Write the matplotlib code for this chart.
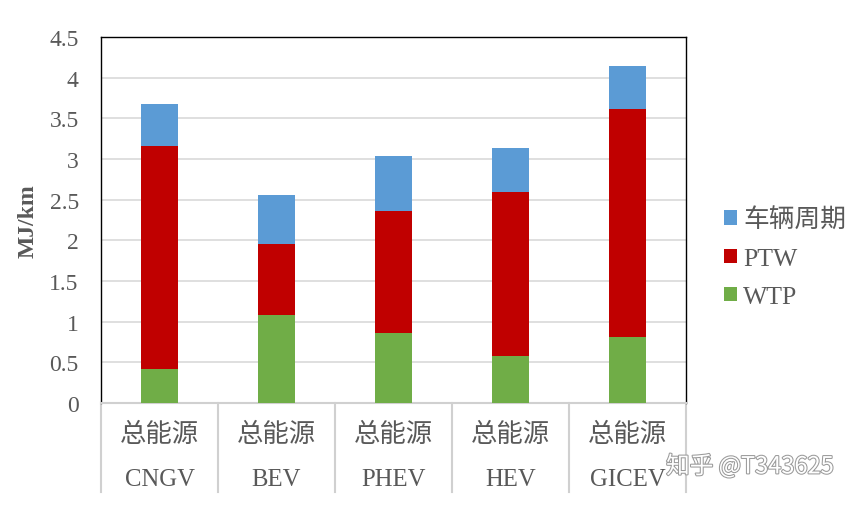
import numpy as np
import matplotlib.pyplot as plt
import matplotlib.patheffects as pe

plt.rcParams['font.family'] = ['Liberation Serif', 'Noto Sans CJK SC', 'DejaVu Sans']

cars = ["CNGV", "BEV", "PHEV", "HEV", "GICEV"]
group = "总能源"
wtp = [0.42, 1.08, 0.86, 0.58, 0.81]
ptw = [2.74, 0.88, 1.50, 2.01, 2.81]
vehicle = [0.52, 0.60, 0.68, 0.55, 0.52]
yticks = [0, 0.5, 1, 1.5, 2, 2.5, 3, 3.5, 4, 4.5]

grey = '#595959'
line_grey = '#D0D0D0'

fig = plt.figure(figsize=(8.57, 5.06), dpi=100)
ax = fig.add_axes([101/857, 1 - 404/506, 585/857, 366/506])

x = np.arange(len(cars))
w = 0.315
b1 = ax.bar(x, wtp, w, color='#70AD47', label='WTP', zorder=3)
b2 = ax.bar(x, ptw, w, bottom=wtp, color='#C00000', label='PTW', zorder=3)
bottom2 = np.array(wtp) + np.array(ptw)
b3 = ax.bar(x, vehicle, w, bottom=bottom2, color='#5B9BD5', label='车辆周期', zorder=3)

ax.set_xlim(-0.5, len(cars) - 0.5)
ax.set_ylim(0, 4.5)
ax.set_yticks(yticks)
ax.set_yticklabels([f"{v:g}" for v in yticks], fontsize=17, color=grey)
ax.tick_params(axis='y', length=0, pad=16)
ax.set_xticks([])
ax.yaxis.grid(True, color='#D9D9D9', linewidth=1.2, zorder=0)

for s in ['top', 'left', 'right']:
    ax.spines[s].set_color('black')
    ax.spines[s].set_linewidth(1.0)
ax.spines['bottom'].set_color(line_grey)
ax.spines['bottom'].set_linewidth(1.5)

ax.set_ylabel("MJ/km", fontsize=17, fontweight='bold', color=grey, labelpad=8)

# category table below the plot
trans = ax.get_xaxis_transform()
for b in np.arange(len(cars) + 1) - 0.5:
    ax.plot([b, b], [0, -0.243], transform=trans, color=line_grey,
            linewidth=1.5, clip_on=False)
for i, c in enumerate(cars):
    ax.text(i, -0.082, group, transform=trans, ha='center', va='center',
            fontsize=19, color=grey, family=['Noto Sans CJK SC'])
    ax.text(i, -0.208, c, transform=trans, ha='center', va='center',
            fontsize=17.8, color=grey)

leg = ax.legend(handles=[b3, b2, b1], loc='center left',
                bbox_to_anchor=(724/857, 1 - 259/506), bbox_transform=fig.transFigure,
                frameon=False, fontsize=18.5, labelcolor=grey,
                handlelength=0.5, handleheight=0.5, handletextpad=0.25,
                labelspacing=0.63, borderpad=0, borderaxespad=0)

fig.text(750/857, 1 - 467/506, "知乎 @T343625", ha='center', va='center',
         fontsize=17, color='white', family=['Noto Sans CJK SC'],
         path_effects=[pe.withStroke(linewidth=1.5, foreground='#9A9A9A')])

fig.savefig("out.png", dpi=100)
